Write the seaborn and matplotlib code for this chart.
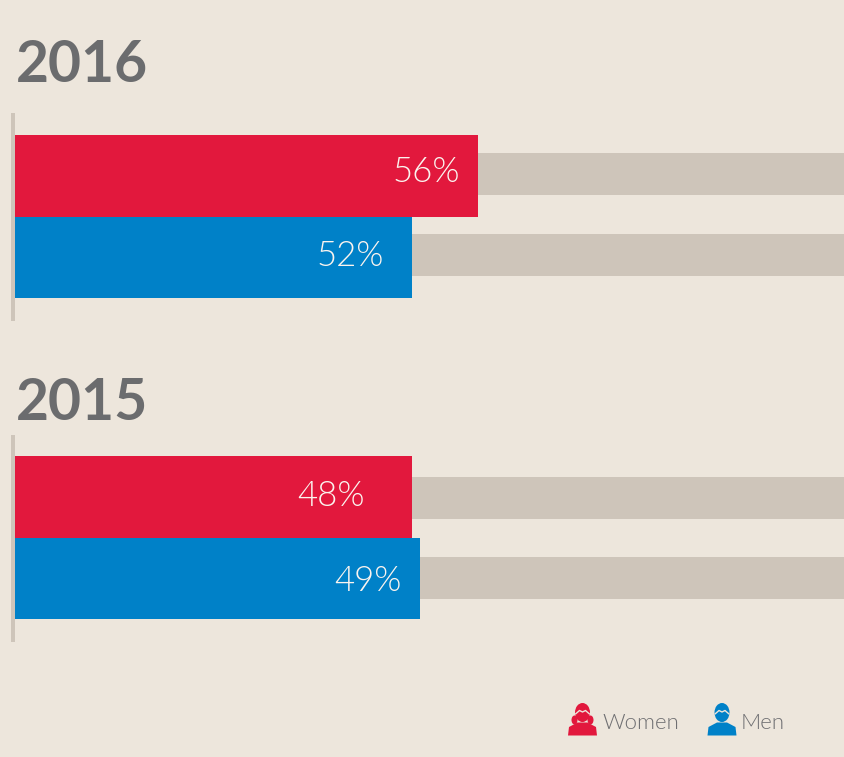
import matplotlib
matplotlib.use('Agg')
import matplotlib.pyplot as plt
import seaborn as sns
import pandas as pd
from matplotlib.patches import Ellipse, Polygon

genders = ['Women', 'Men']
bars_2016 = [56, 48]  # the men's bar is drawn shorter than its 52% label in the original
bars_2015 = [48, 49]
labels_2016 = ['56%', '52%']
labels_2015 = ['48%', '49%']

bg = '#EDE6DC'
track = '#CEC5BA'
colors = {'Women': '#E2183D', 'Men': '#0081C8'}
W, H = 845, 757

sns.set_theme(style='white')
plt.rcParams['font.family'] = ['Lato', 'DejaVu Sans']

fig = plt.figure(figsize=(W/100, H/100), dpi=100, facecolor=bg)

def px_axes(x0, y0, x1, y1):
    return fig.add_axes([x0/W, 1-y1/H, (x1-x0)/W, (y1-y0)/H])

def draw_year(vals, labels, top, bottom, track_off, label_off):
    df = pd.DataFrame({'gender': genders, 'value': vals})
    ax = px_axes(15, top, 845, bottom)
    ax.set_facecolor('none')
    for i in range(2):
        ax.barh(i + track_off[i], 101, height=0.515, color=track, linewidth=0)
    sns.barplot(data=df, y='gender', x='value', hue='gender', palette=colors, dodge=False,
                width=1.0, saturation=1, linewidth=0, legend=False, ax=ax, zorder=3, orient='h')
    ax.set_xlim(0, 100.4)
    ax.set_ylim(1.5, -0.5)
    ax.axis('off')
    for i, v in enumerate(vals):
        ax.annotate(labels[i], (v, i), xytext=label_off[i], textcoords='offset pixels',
                    color='#FBF4EF', fontsize=25, fontweight=300,
                    va='center', ha='right', zorder=5)

draw_year(bars_2016, labels_2016, 135, 298, [-0.02, -0.03], [(-18, 4), (-28, 1)])
draw_year(bars_2015, labels_2015, 456, 619, [0.01, -0.005], [(-47, 1), (-18, -3)])

fig.text(16/W, 1-66/H, '2016', fontsize=41, fontweight='bold', color='#6B6C6E', va='center')
fig.text(16/W, 1-403/H, '2015', fontsize=41, fontweight='bold', color='#6B6C6E', va='center')

# left rules
for y0, y1 in ((113, 321), (435, 642)):
    fig.add_artist(plt.Rectangle((10.7/W, 1-y1/H), 4.3/W, (y1-y0)/H, color=track, lw=0,
                                 transform=fig.transFigure))

def person(cx, color, hair):
    tr = fig.transFigure
    if hair:
        fig.add_artist(Ellipse(((cx-8)/W, 1-720/H), 6/W, 9/H, color=color, lw=0, transform=tr))
        fig.add_artist(Ellipse(((cx+8)/W, 1-720/H), 6/W, 9/H, color=color, lw=0, transform=tr))
    fig.add_artist(Ellipse((cx/W, 1-712.5/H), 15/W, 19/H, color=color, lw=0, transform=tr))
    fig.add_artist(Polygon([((cx-14.5)/W, 1-735.5/H), ((cx-13.5)/W, 1-727/H), ((cx-5)/W, 1-722.5/H),
                            ((cx+5)/W, 1-722.5/H), ((cx+13.5)/W, 1-727/H), ((cx+14.5)/W, 1-735.5/H)],
                           closed=True, color=color, lw=0, transform=tr))
    # forehead highlight
    fig.add_artist(plt.Line2D([(cx-7)/W, (cx-3)/W, cx/W, (cx+3)/W, (cx+7)/W],
                              [1-714/H, 1-710.5/H, 1-712/H, 1-710.5/H, 1-714/H],
                              color=bg, lw=1.0, transform=tr))

person(582.5, colors['Women'], True)
person(722, colors['Men'], False)
fig.text(602/W, 1-723/H, 'Women', fontsize=16, fontweight=300, color='#6F6F72', va='center')
fig.text(741/W, 1-723/H, 'Men', fontsize=16, fontweight=300, color='#6F6F72', va='center')

fig.savefig('out.png', dpi=100, facecolor=bg)
